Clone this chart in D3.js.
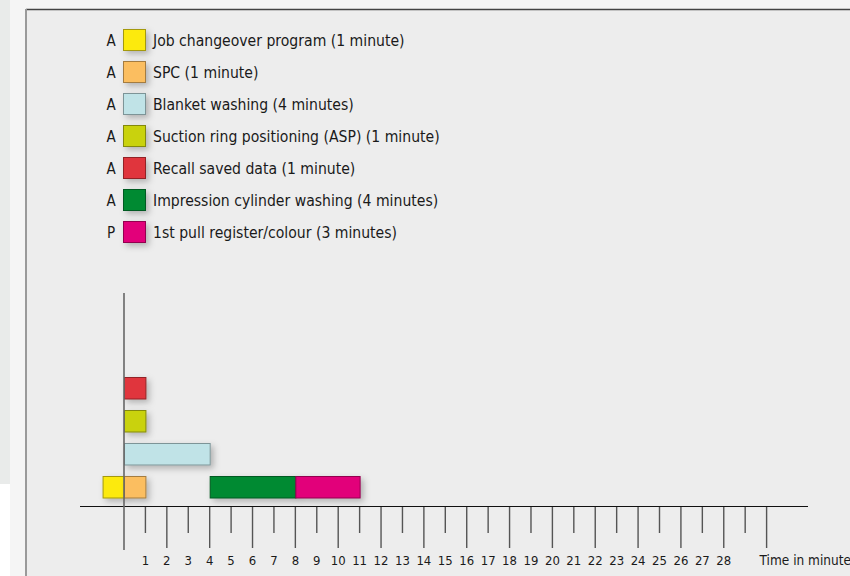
<!DOCTYPE html>
<html>
<head>
<meta charset="utf-8">
<script src="https://cdn.jsdelivr.net/npm/d3@7"></script>
<style>
  html, body { margin: 0; padding: 0; background: #f5f5f5; }
  svg { display: block; }
  text { font-family: "DejaVu Sans Condensed", "DejaVu Sans", sans-serif; fill: #1a1a1a; }
</style>
</head>
<body>
<svg id="chart" width="850" height="576"></svg>
<script>
// ---- data ----
const tasks = ["Job changeover program", "SPC", "Blanket washing", "Suction ring positioning (ASP)",
               "Recall saved data", "Impression cylinder washing", "1st pull register/colour"];
const codes = ["A", "A", "A", "A", "A", "A", "P"];
const durations = [1, 1, 4, 1, 1, 4, 3];
const starts = [-1, 0, 0, 0, 0, 4, 8];
const lanes = [0, 0, 1, 2, 3, 0, 0];
const colors = ["#fcea10", "#fbbe60", "#c0e3e7", "#c9d20e", "#e0353c", "#008a33", "#e2007a"];
const tickValues = d3.range(1, 31);
const tickLabels = d3.range(1, 29);
const axisTitle = "Time in minutes";

const svg = d3.select("#chart");

// page backgrounds
svg.append("rect").attr("x", 0).attr("y", 0).attr("width", 10).attr("height", 484).attr("fill", "#e9ebea");
svg.append("rect").attr("x", 0).attr("y", 484).attr("width", 10).attr("height", 92).attr("fill", "#ffffff");
svg.append("rect").attr("x", 26).attr("y", 9).attr("width", 830).attr("height", 580).attr("fill", "#ededed");
svg.append("line").attr("x1", 26).attr("x2", 850).attr("y1", 9.5).attr("y2", 9.5).attr("stroke", "#444").attr("stroke-width", 1.5);
svg.append("line").attr("x1", 26).attr("x2", 26).attr("y1", 9).attr("y2", 576).attr("stroke", "#9a9a9a").attr("stroke-width", 2);

// shadow filter
const defs = svg.append("defs");
const f = defs.append("filter").attr("id", "sh").attr("x", "-30%").attr("y", "-30%").attr("width", "180%").attr("height", "180%");
f.append("feDropShadow").attr("dx", 3).attr("dy", 3).attr("stdDeviation", 3)
  .attr("flood-color", "#000").attr("flood-opacity", 0.25);

// scales
const x = d3.scaleLinear().domain([0, 30]).range([124, 766.6]);
const laneY = d3.scaleLinear().domain([0, 3]).range([476, 377]);
const barH = 21.5;
const legY = d3.scaleLinear().domain([0, 6]).range([29, 221]);

const items = tasks.map((t, i) => ({
  task: t, code: codes[i], dur: durations[i], start: starts[i], lane: lanes[i], color: colors[i],
  label: `${t} (${durations[i]} minute${durations[i] > 1 ? "s" : ""})`
}));

// legend
const leg = svg.append("g");
items.forEach((d, i) => {
  const y0 = legY(i);
  leg.append("text").attr("x", 111).attr("y", y0 + 17).attr("text-anchor", "middle")
    .attr("font-size", 15).text(d.code);
  leg.append("rect").attr("x", 123.5).attr("y", y0 + 0.5).attr("width", 22).attr("height", 21)
    .attr("fill", d.color).attr("stroke", d3.color(d.color).darker(1.2)).attr("stroke-width", 1)
    .attr("filter", "url(#sh)");
  leg.append("text").attr("x", 153).attr("y", y0 + 17).attr("font-size", 15.6).text(d.label);
});

// axis line
const axisY = 506;
svg.append("line").attr("x1", 80).attr("x2", 808).attr("y1", axisY + 0.5).attr("y2", axisY + 0.5)
  .attr("stroke", "#111").attr("stroke-width", 1.2);

// ticks
svg.append("g").selectAll("line").data(tickValues).join("line")
  .attr("x1", d => x(d)).attr("x2", d => x(d))
  .attr("y1", axisY + 1).attr("y2", d => d % 2 === 0 ? 548 : 533)
  .attr("stroke", "#555").attr("stroke-width", 1.4);

// tick labels
svg.append("g").selectAll("text").data(tickLabels).join("text")
  .attr("x", d => x(d)).attr("y", 565).attr("text-anchor", "middle")
  .attr("font-size", 13).text(d => d);
svg.append("text").attr("x", x(30) - 7).attr("y", 565).attr("font-size", 13.5).text(axisTitle);

// bars
svg.append("g").selectAll("rect").data(items).join("rect")
  .attr("x", d => x(d.start) + 0.5)
  .attr("y", d => laneY(d.lane) + 0.5)
  .attr("width", d => x(d.start + d.dur) - x(d.start))
  .attr("height", barH)
  .attr("fill", d => d.color)
  .attr("stroke", d => d3.color(d.color).darker(1.2))
  .attr("stroke-width", 1)
  .attr("filter", "url(#sh)");

// zero line
svg.append("line").attr("x1", x(0)).attr("x2", x(0)).attr("y1", 293).attr("y2", 550)
  .attr("stroke", "#666").attr("stroke-width", 1.6);
</script>
</body>
</html>
